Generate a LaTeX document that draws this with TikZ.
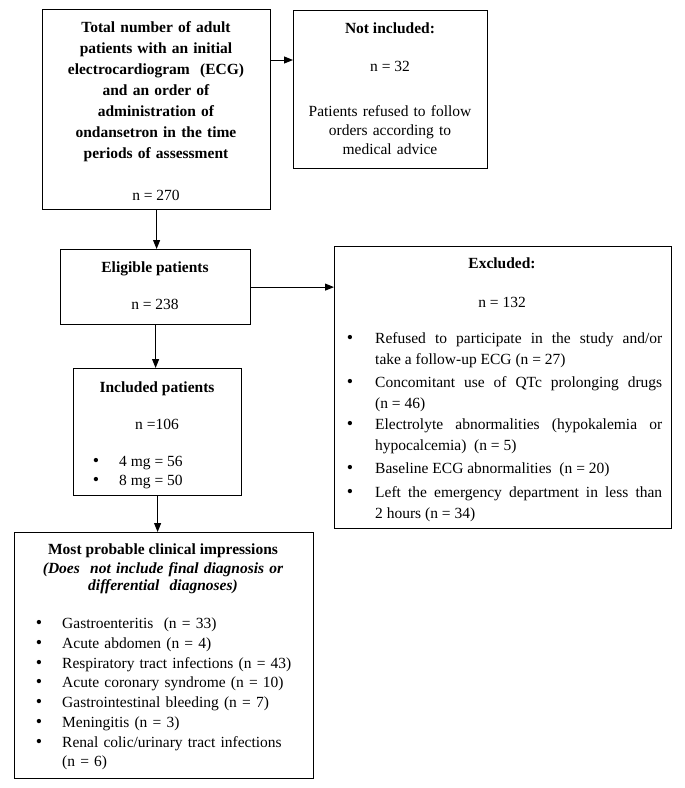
\documentclass[tikz,border=0pt]{standalone}
\usepackage{fontspec}
\setmainfont{Liberation Serif}
\usetikzlibrary{arrows.meta}
\begin{document}
\begin{tikzpicture}[x=1pt,y=-1pt,
  box/.style={draw, line width=1.2pt, inner sep=0pt, anchor=north west},
  arr/.style={-{Triangle[length=9pt,width=7pt]}, line width=1pt},
  txt/.style={inner sep=0pt, font=\fontsize{15.5}{21}\selectfont},
  btxt/.style={inner sep=0pt, font=\fontsize{15.5}{21}\selectfont\bfseries},
  itm/.style={txt, anchor=mid west, text width=287pt, align=justify},
  bul/.style={txt, anchor=mid, font=\fontsize{18}{21}\selectfont}
]
\useasboundingbox (0,0) rectangle (685,788);
\fill[white] (0,0) rectangle (685,788);

% boxes
\node[box, minimum width=228pt, minimum height=200pt] (total) at (42,9) {};
\node[box, minimum width=194pt, minimum height=158pt] (notinc) at (293,10) {};
\node[box, minimum width=190pt, minimum height=75pt] (elig) at (60,249) {};
\node[box, minimum width=337pt, minimum height=282pt] (excl) at (334,246) {};
\node[box, minimum width=168pt, minimum height=127pt] (incl) at (73,368) {};
\node[box, minimum width=299pt, minimum height=246pt] (clin) at (14,532) {};

\begin{scope}[yshift=-3.5pt]
% total
\node[btxt, text width=226pt, align=center, anchor=mid] (ttext) at (156,27) {Total number of adult\\patients with an initial\\electrocardiogram\ \ (ECG)\\and an order of\\administration of\\ondansetron in the time\\periods of assessment};
\node[txt, anchor=mid] (tn) at (156,195) {n = 270};

% not included
\node[btxt, anchor=mid] (nt) at (390,28) {Not included:};
\node[txt, anchor=mid] (nn) at (390,66) {n = 32};
\node[txt, text width=192pt, align=center, anchor=mid, font=\fontsize{15.5}{19}\selectfont] (nd) at (390,111) {Patients refused\ to follow\\orders according\ to\\medical\ advice};

% eligible
\node[btxt, anchor=mid] (et) at (155,267) {Eligible patients};
\node[txt, anchor=mid] (en) at (155,304) {n = 238};

% excluded
\node[btxt, anchor=mid] (xt) at (502,263) {Excluded:};
\node[txt, anchor=mid] (xn) at (502,302) {n = 132};
\node[bul] (xb1) at (350,338) {\textbullet};
\node[itm] (x1) at (375,338) {Refused to participate in the study and/or\linebreak take a follow-up ECG (n = 27)};
\node[bul] (xb2) at (350,382) {\textbullet};
\node[itm] (x2) at (375,382) {Concomitant use of QTc prolonging drugs\linebreak (n = 46)};
\node[bul] (xb3) at (350,424) {\textbullet};
\node[itm] (x3) at (375,424) {Electrolyte abnormalities (hypokalemia or\linebreak hypocalcemia)\ \ (n = 5)};
\node[bul] (xb4) at (350,468) {\textbullet};
\node[itm] (x4) at (375,468) {Baseline ECG abnormalities\ \ (n = 20)};
\node[bul] (xb5) at (350,492) {\textbullet};
\node[itm] (x5) at (375,492) {Left the emergency department in less than\linebreak 2 hours (n = 34)};

% included
\node[btxt, anchor=mid] (it) at (157,387) {Included patients};
\node[txt, anchor=mid] (in) at (157,424) {n =106};
\node[bul] (ib1) at (96,461) {\textbullet};
\node[txt, anchor=mid west] (i1) at (119,461) {4 mg = 56};
\node[bul] (ib2) at (96,480) {\textbullet};
\node[txt, anchor=mid west] (i2) at (119,480) {8 mg = 50};

% clinical
\node[btxt, anchor=mid] (ct) at (163,549) {Most probable clinical impressions};
\node[txt, text width=297pt, align=center, anchor=mid, font=\fontsize{15.5}{17}\selectfont\bfseries\itshape] (cs) at (163,568) {(Does\ \ not include final diagnosis or\\differential\ \ diagnoses)};
\node[bul, text width=12pt, align=center, font=\fontsize{18}{19.7}\selectfont] (cb) at (39,623) {\textbullet\\\textbullet\\\textbullet\\\textbullet\\\textbullet\\\textbullet\\\textbullet};
\node[txt, anchor=mid west, text width=248pt, align=left, font=\fontsize{15.5}{19.7}\selectfont] (cl) at (62,623) {Gastroenteritis\ \ (n = 33)\\Acute abdomen (n = 4)\\Respiratory tract infections (n = 43)\\Acute coronary syndrome (n = 10)\\Gastrointestinal\ bleeding (n = 7)\\Meningitis (n = 3)\\Renal colic/urinary tract infections\\(n = 6)};
\end{scope}

% connectors
\coordinate (y60) at (0,60);
\draw[arr] (total.east |- y60) -- (notinc.west |- y60);
\draw[arr] (total.south) -- (total.south |- elig.north);
\draw[arr] (elig.east) -- (elig.east -| excl.west);
\draw[arr] (elig.south) -- (elig.south |- incl.north);
\draw[arr] (incl.south) -- (incl.south |- clin.north);
\end{tikzpicture}
\end{document}
